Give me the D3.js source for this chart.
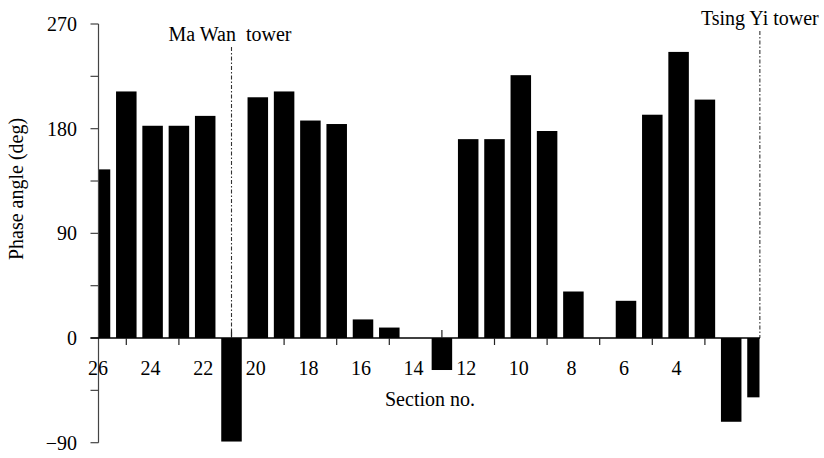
<!DOCTYPE html>
<html><head><meta charset="utf-8">
<script src="https://cdn.jsdelivr.net/npm/d3@7"></script>
<style>
html,body{margin:0;padding:0;background:#fff;}
svg{display:block;font-family:"Liberation Serif","Times New Roman",serif;}
</style></head>
<body>
<svg id="chart" width="824" height="458"></svg>
<script>
const sections = [26,25,24,23,22,21,20,19,18,17,16,15,14,13,12,11,10,9,8,7,6,5,4,3,2,1];
const phaseAngles = [145,212,182.5,182.5,191,-89,207,212,187,184,16,9,0,-27.5,171,171,226,178,40,0,32,192,246,205,-72,-51];
const xTickLabels = [26,24,22,20,18,16,14,12,10,8,6,4];
const xTickMarks = [25,23,21,19,17,15,13,11,9,7,5,3];
const yTicks = [-90,-45,0,45,90,135,180,225,270];
const yTickLabels = [-90,0,90,180,270];
const towers = [{name:"Ma Wan  tower", section:21}, {name:"Tsing Yi tower", section:0.91}];

const svg = d3.select("#chart");
const W = 824, H = 458;
const axisX = 98.5, plotRight = 759.5;
const x = d3.scaleLinear().domain([26,1]).range([100,757.5]);
const step = Math.abs(x(1)-x(2));
const barW = step*0.78;
const y = d3.scaleLinear().domain([-90,270]).range([442.7,24]);

svg.append("rect").attr("width",W).attr("height",H).attr("fill","#fff");

svg.append("defs").append("clipPath").attr("id","plotclip")
  .append("rect").attr("x",axisX).attr("y",0).attr("width",plotRight-axisX).attr("height",H);

// tower lines
const towerG = svg.append("g");
towers.forEach((t,i)=>{
  const tx = x(t.section);
  towerG.append("line").attr("x1",tx).attr("x2",tx)
    .attr("y1", i===0 ? 47 : 31).attr("y2", y(0))
    .attr("stroke","#333").attr("stroke-width",1.1)
    .attr("stroke-dasharray","4,2,1.5,2");
  towerG.append("text").attr("x", i===0 ? tx-1.5 : tx).attr("y", i===0 ? 41 : 25)
    .attr("text-anchor","middle").attr("font-size",20).attr("fill","#000")
    .style("white-space","pre").text(t.name);
});

// bars
svg.append("g").attr("clip-path","url(#plotclip)")
  .selectAll("rect").data(sections.map((s,i)=>({s, v:phaseAngles[i]})).filter(d=>d.v!==0))
  .join("rect")
  .attr("x", d=>x(d.s)-barW/2)
  .attr("width", barW)
  .attr("y", d=>Math.min(y(d.v), y(0)))
  .attr("height", d=>Math.abs(y(d.v)-y(0)))
  .attr("fill","#000");

// y axis
const yAx = svg.append("g");
yAx.append("line").attr("x1",axisX).attr("x2",axisX).attr("y1",y(270)).attr("y2",y(-90))
  .attr("stroke","#444").attr("stroke-width",1.2);
yAx.selectAll("line.tk").data(yTicks).join("line").attr("class","tk")
  .attr("x1",axisX-8).attr("x2",axisX).attr("y1",d=>y(d)).attr("y2",d=>y(d))
  .attr("stroke","#444").attr("stroke-width",1.2);
yAx.selectAll("text").data(yTickLabels).join("text")
  .attr("x",77).attr("y",d=>y(d)).attr("dy","0.35em")
  .attr("text-anchor","end").attr("font-size",20).attr("fill","#000")
  .text(d=> d<0 ? "\u2212"+Math.abs(d) : d);

// x axis (zero line)
const xAx = svg.append("g");
xAx.append("line").attr("x1",axisX-8).attr("x2",plotRight+0.5).attr("y1",y(0)).attr("y2",y(0))
  .attr("stroke","#000").attr("stroke-width",1.6);
xAx.selectAll("line.tk").data(xTickMarks).join("line").attr("class","tk")
  .attr("x1",d=>x(d)).attr("x2",d=>x(d))
  .attr("y1",y(0))
  .attr("y2",d=> phaseAngles[sections.indexOf(d)]<0 ? y(0)-8 : y(0)+7)
  .attr("stroke","#222").attr("stroke-width",1.2);
xAx.selectAll("text").data(xTickLabels).join("text")
  .attr("x",d=>x(d)-2).attr("y",375)
  .attr("text-anchor","middle").attr("font-size",20).attr("fill","#000")
  .text(d=>d);

// axis titles
svg.append("text").attr("x",430).attr("y",406).attr("text-anchor","middle")
  .attr("font-size",20).attr("fill","#000").text("Section no.");
svg.append("text").attr("transform","translate(23,189) rotate(-90)")
  .attr("text-anchor","middle").attr("font-size",20).attr("fill","#000")
  .text("Phase angle (deg)");
</script>
</body></html>
